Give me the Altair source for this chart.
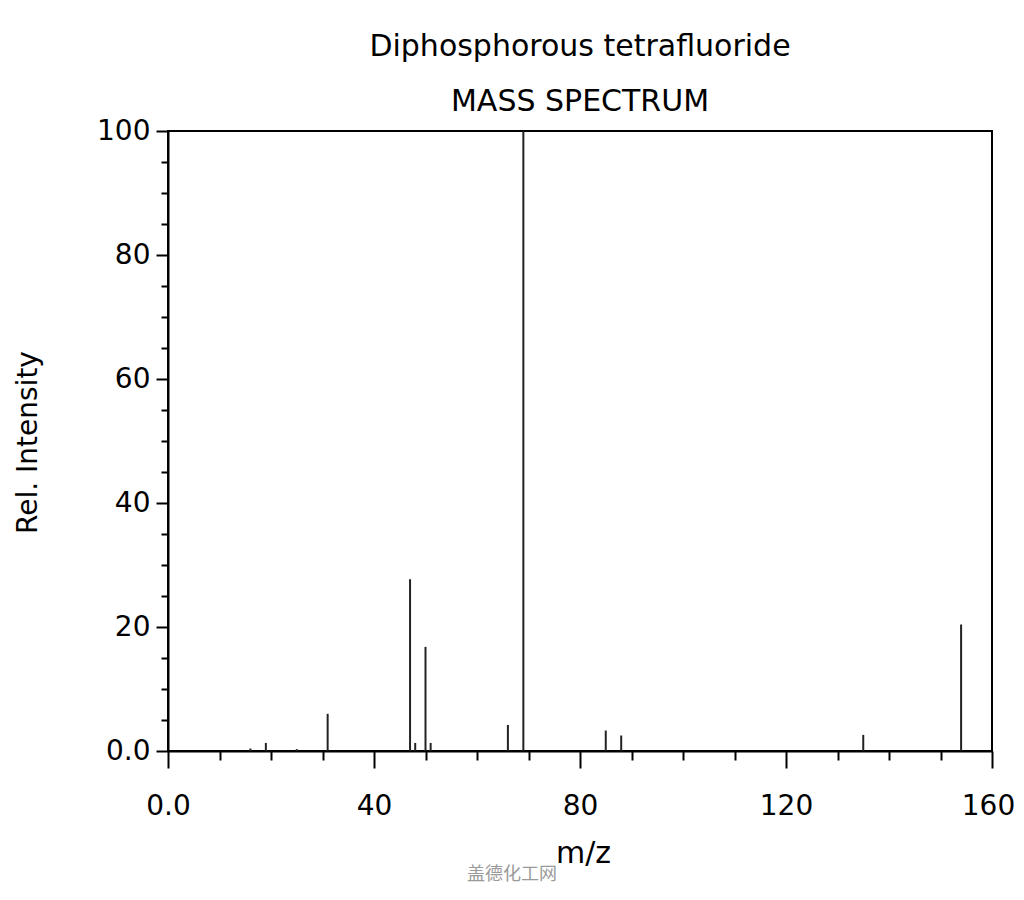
import altair as alt
import pandas as pd

# Data
mz = [16, 19, 25, 31, 47, 48, 50, 51, 66, 69, 85, 88, 135, 154]
intensity = [0.4, 1.3, 0.3, 6.0, 27.7, 1.3, 16.8, 1.3, 4.2, 100.0, 3.3, 2.5, 2.6, 20.4]

x_ticks = list(range(0, 161, 10))
y_ticks = list(range(0, 101, 5))

title_text = "Diphosphorous tetrafluoride"
subtitle_text = "MASS SPECTRUM"
x_title = "m/z"
y_title = "Rel. Intensity"
watermark = ["盖德化工网"]

df = pd.DataFrame({"mz": mz, "intensity": intensity})
wm = pd.DataFrame({"t": watermark})

FONT = "DejaVu Sans"

x_axis = alt.Axis(
    values=x_ticks,
    title=x_title,
    labelExpr="datum.value % 40 === 0 ? (datum.value === 0 ? '0.0' : datum.label) : ''",
    tickSize={"condition": {"test": "datum.value % 40 === 0", "value": 17}, "value": 9},
    labelOffset={"condition": {"test": "datum.value === 160", "value": -4}, "value": 0},
    labelPadding=24,
    labelFontSize=28,
    titleFontSize=30,
    titleX=415,
    titleY=102,
    titleBaseline="middle",
    labelFlush=False,
    labelOverlap=False,
)

y_axis = alt.Axis(
    values=y_ticks,
    title=y_title,
    labelExpr="datum.value % 20 === 0 ? (datum.value === 0 ? '0.0' : datum.label) : ''",
    tickSize={"condition": {"test": "datum.value % 20 === 0", "value": 12}, "value": 7},
    labelPadding=6,
    labelFontSize=28,
    titleFontSize=28,
    titleAngle=270,
    titleX=-140,
    titleY=311,
    titleAlign="center",
    titleBaseline="middle",
    labelFlush=False,
    labelOverlap=False,
)

peaks = alt.Chart(df).mark_rule(color="#222222", strokeWidth=2).encode(
    x=alt.X("mz:Q", scale=alt.Scale(domain=[0, 160], nice=False), axis=x_axis),
    y=alt.Y("intensity:Q", scale=alt.Scale(domain=[0, 100], nice=False), axis=y_axis),
    y2=alt.datum(0),
)

mark_wm = alt.Chart(wm).mark_text(
    font="Noto Sans CJK SC", fontSize=18, color="#9a9a9a"
).encode(text="t:N", x=alt.value(344), y=alt.value(744))

chart = (
    alt.layer(peaks, mark_wm)
    .properties(
        width=824,
        height=620,
        title=alt.TitleParams(
            text=title_text,
            subtitle=subtitle_text,
            font=FONT,
            fontSize=30,
            fontWeight="normal",
            color="black",
            subtitleFont=FONT,
            subtitleFontSize=30,
            subtitleColor="black",
            subtitlePadding=25,
            anchor="middle",
            offset=0,
        ),
        autosize=alt.AutoSizeParams(type="none"),
        padding={"left": 160, "top": 123, "right": 24, "bottom": 135},
    )
    .configure_view(stroke="black", strokeWidth=2)
    .configure_axis(
        domainColor="black",
        domainWidth=2,
        tickColor="black",
        tickWidth=2,
        labelFont=FONT,
        labelColor="black",
        titleFont=FONT,
        titleColor="black",
        titleFontWeight="normal",
        grid=False,
    )
)

chart.save("out.html", embed_options={"renderer": "svg", "actions": False})
